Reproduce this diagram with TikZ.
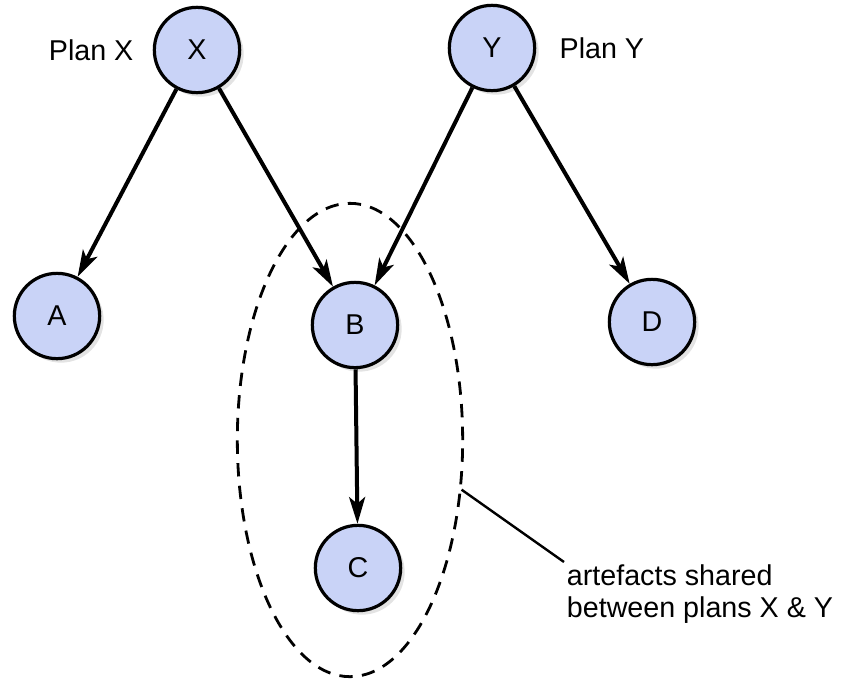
\documentclass[tikz,border=0pt]{standalone}
\usepackage{fontspec}
\setmainfont{Liberation Sans}
\usepackage{tikz}
\usetikzlibrary{arrows.meta,shapes.geometric,shadows,positioning}
\definecolor{Plan-fill}{RGB}{201,211,247}

\begin{document}
\begin{tikzpicture}[x=0.75pt,y=0.75pt,
  artefact/.style={circle,draw=black,line width=2.4pt,fill=Plan-fill,minimum size=64pt,inner sep=0pt,
    font=\fontsize{21.5}{25}\selectfont,
    drop shadow={opacity=0.22,shadow xshift=3pt,shadow yshift=-3pt}},
  depends/.style={line width=3pt,-{Stealth[length=20pt,width=12pt,inset=5pt]}},
  plantext/.style={font=\fontsize{21.5}{24}\selectfont}]
\useasboundingbox (0,0) rectangle (846,-679);
%Shared artefacts
\node[ellipse,draw,line width=2.1pt,dash pattern=on 10pt off 7pt,minimum width=169pt,minimum height=355pt] (shared) at (350,-440) {};
%Plans
\node[artefact] (X) at (197,-50) {X};
\node[artefact] (Y) at (492,-48) {Y};
\node[plantext,left=11pt of X] (planX) {Plan X};
\node[plantext,right=14pt of Y] (planY) {Plan Y};
%Artefacts
\node[artefact] (A) at (57,-316) {A};
\node[artefact] (B) at (355,-325) {B};
\node[artefact] (D) at (652,-322) {D};
\node[artefact] (C) at (358,-568) {C};
%Dependencies
\draw[depends] (X) -- (A);
\draw[depends] (X) -- (B);
\draw[depends] (Y) -- (B);
\draw[depends] (Y) -- (D);
\draw[depends] (B) -- (C);
%labels
\node[plantext,align=left,anchor=north west,inner sep=2pt] (note) at (564,-562) {artefacts shared\\between plans X \& Y};
\draw[line width=1.8pt] (shared.-24) -- (note.north west);
\end{tikzpicture}
\end{document}
